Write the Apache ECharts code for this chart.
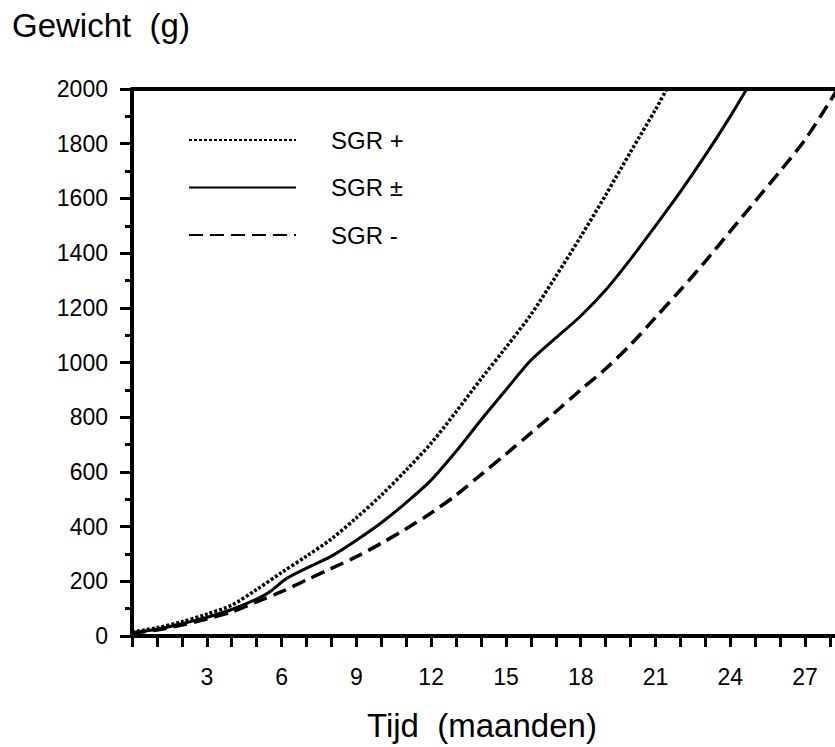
<!DOCTYPE html>
<html>
<head>
<meta charset="utf-8">
<script src="https://cdn.jsdelivr.net/npm/echarts@6/dist/echarts.min.js"></script>
<style>
  html, body { margin: 0; padding: 0; background: #fff; }
  #chart { width: 835px; height: 747px; }
</style>
</head>
<body>
<div id="chart"></div>
<script>
// ---- data ----
const seriesNames = ['SGR +', 'SGR \u00B1', 'SGR -'];

const monthsPlus  = [0, 1, 2, 3, 4, 5, 6, 7, 8, 9, 10, 11, 12, 13, 14, 15, 16, 17, 18, 19, 20, 21, 21.45];
const weightPlus  = [15, 30, 52, 80, 113, 170, 232, 292, 355, 432, 515, 607, 705, 820, 940, 1055, 1175, 1315, 1460, 1612, 1770, 1925, 2000];

const monthsMid   = [0, 1, 2, 3, 4, 5, 5.5, 6.2, 7, 8, 9, 10, 11, 12, 13, 14, 15, 16, 17, 18, 19, 20, 21, 22, 23, 24, 24.66];
const weightMid   = [12, 25, 45, 68, 97, 135, 160, 210, 248, 292, 350, 414, 488, 570, 675, 790, 900, 1008, 1090, 1170, 1265, 1378, 1500, 1625, 1758, 1900, 2000];

const monthsMin   = [0, 1, 2, 3, 4, 5, 6, 7, 8, 9, 10, 11, 12, 13, 14, 15, 16, 17, 18, 19, 20, 21, 22, 23, 24, 25, 26, 27, 28, 28.3];
const weightMin   = [10, 22, 40, 62, 88, 125, 162, 205, 247, 290, 339, 392, 450, 515, 590, 665, 742, 820, 900, 977, 1065, 1165, 1265, 1370, 1480, 1590, 1700, 1815, 1955, 2000];

const xTickLabels = [3, 6, 9, 12, 15, 18, 21, 24, 27];
const yTickLabels = [0, 200, 400, 600, 800, 1000, 1200, 1400, 1600, 1800, 2000];

const yTitle = 'Gewicht  (g)';
const xTitle = 'Tijd  (maanden)';

function pairs(xs, ys) { return xs.map((x, i) => [x, ys[i]]); }

const FONT = 'Liberation Sans, Arial, Helvetica, sans-serif';
const chart = echarts.init(document.getElementById('chart'), null, { renderer: 'svg' });

const axisLineStyle = { color: '#000', width: 4 };

chart.setOption({
  animation: false,
  backgroundColor: '#fff',
  textStyle: { fontFamily: FONT, color: '#000' },
  title: [
    { text: yTitle, left: 12, top: 9, padding: 0,
      textStyle: { fontFamily: FONT, fontSize: 33, fontWeight: 'normal', color: '#000' } },
    { text: xTitle, left: 367, top: 709, padding: 0,
      textStyle: { fontFamily: FONT, fontSize: 33, fontWeight: 'normal', color: '#000' } }
  ],
  legend: {
    orient: 'vertical',
    left: 188,
    top: 126,
    padding: 0,
    itemWidth: 107,
    itemHeight: 14,
    itemGap: 19.5,
    selectedMode: false,
    data: seriesNames,
    itemStyle: { opacity: 0 },
    textStyle: { fontFamily: FONT, fontSize: 24, color: '#000', lineHeight: 28, padding: [0, 0, 0, 30] }
  },
  grid: { left: 132, top: 89, right: 0, height: 547, containLabel: false },
  xAxis: [
    {
      type: 'value', min: 0, max: 28.2, interval: 1,
      position: 'bottom',
      axisLine: { show: true, onZero: false, lineStyle: axisLineStyle },
      axisTick: { show: true, length: 11, lineStyle: { color: '#000', width: 3 } },
      splitLine: { show: false },
      axisLabel: {
        margin: 29, fontSize: 23, color: '#000', fontFamily: FONT, showMaxLabel: false,
        formatter: v => (xTickLabels.indexOf(v) >= 0 ? String(v) : '')
      }
    },
    {
      type: 'value', min: 0, max: 28.2, interval: 1,
      position: 'top',
      axisLine: { show: true, onZero: false, lineStyle: axisLineStyle },
      axisTick: { show: false }, axisLabel: { show: false }, splitLine: { show: false }
    }
  ],
  yAxis: {
    type: 'value', min: 0, max: 2000, interval: 200,
    axisLine: { show: true, onZero: false, lineStyle: axisLineStyle },
    axisTick: { show: true, length: 12, lineStyle: { color: '#000', width: 3 } },
    minorTick: { show: true, splitNumber: 2, length: 7, lineStyle: { color: '#000', width: 3 } },
    splitLine: { show: false },
    axisLabel: {
      margin: 24, fontSize: 23, color: '#000', fontFamily: FONT,
      formatter: v => (yTickLabels.indexOf(v) >= 0 ? String(v) : '')
    }
  },
  series: [
    {
      name: seriesNames[0], type: 'line', xAxisIndex: 0, symbol: 'none', showSymbol: false, smooth: 0.3,
      data: pairs(monthsPlus, weightPlus),
      lineStyle: { color: '#000', width: 3.5, type: [3, 2] },
      itemStyle: { color: '#000' }
    },
    {
      name: seriesNames[1], type: 'line', xAxisIndex: 0, symbol: 'none', showSymbol: false, smooth: 0.3,
      data: pairs(monthsMid, weightMid),
      lineStyle: { color: '#000', width: 3, type: 'solid' },
      itemStyle: { color: '#000' }
    },
    {
      name: seriesNames[2], type: 'line', xAxisIndex: 0, symbol: 'none', showSymbol: false, smooth: 0.3,
      data: pairs(monthsMin, weightMin),
      lineStyle: { color: '#000', width: 3.5, type: [14, 7] },
      itemStyle: { color: '#000' }
    }
  ]
});
</script>
</body>
</html>
